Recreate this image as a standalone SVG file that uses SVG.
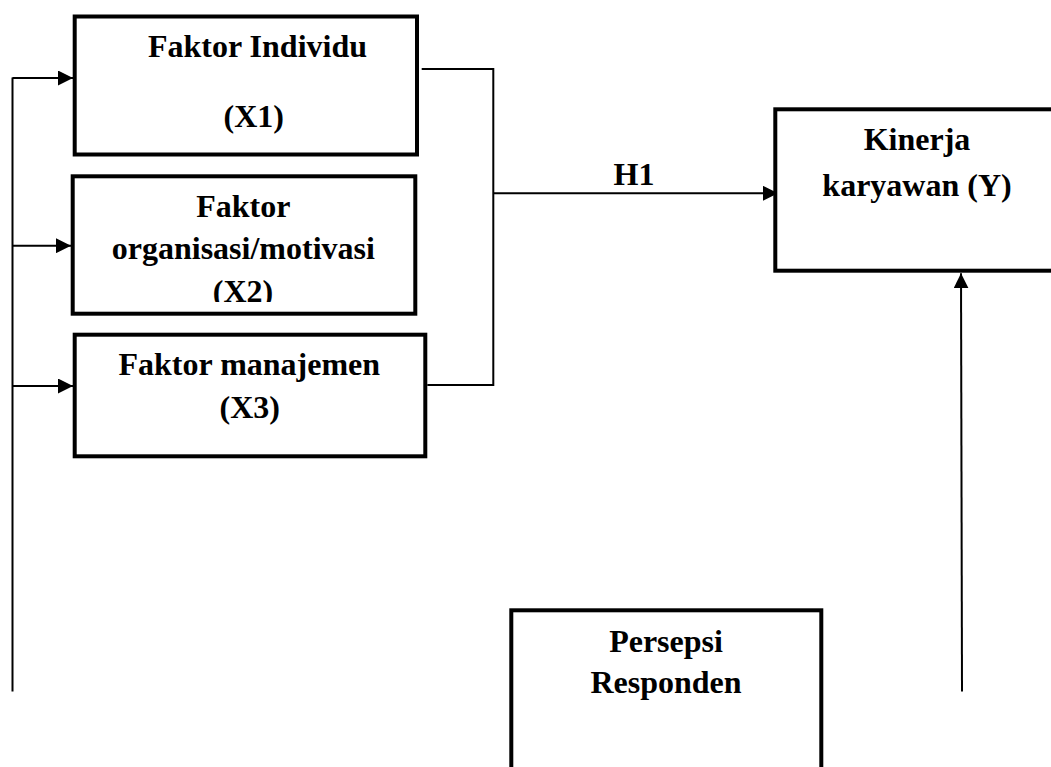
<svg xmlns="http://www.w3.org/2000/svg" width="1051" height="767" viewBox="0 0 1051 767">
<style>
.box{fill:#fff;stroke:#000;stroke-width:4}
.t{font-family:"Liberation Serif","Times New Roman",serif;font-weight:bold;font-size:32px;fill:#000;text-anchor:middle}
.c{fill:none;stroke:#000;stroke-width:2}
</style>
<defs>
<marker id="ah" markerUnits="userSpaceOnUse" markerWidth="15" markerHeight="15" refX="15" refY="7.5" orient="auto">
<path d="M0,0 L15,7.5 L0,15 z" fill="#000"/>
</marker>
<clipPath id="clip2"><rect x="0" y="0" width="1051" height="302"/></clipPath>
</defs>
<rect width="1051" height="767" fill="#fff"/>
<g id="connectors">
<path class="c" d="M12.5,691.5 V77.5"/>
<line class="c" x1="12.5" y1="78" x2="73" y2="78" marker-end="url(#ah)"/>
<line class="c" x1="12.5" y1="245.7" x2="71" y2="245.7" marker-end="url(#ah)"/>
<line class="c" x1="12.5" y1="386" x2="73" y2="386" marker-end="url(#ah)"/>
<path class="c" d="M421.7,69 H493.3 V385 H427.3"/>
<line class="c" x1="493.3" y1="193.3" x2="778" y2="193.3" marker-end="url(#ah)"/>
<line class="c" x1="962" y1="691.5" x2="961" y2="273.3" marker-end="url(#ah)"/>
<text class="t" x="634" y="185">H1</text>
</g>
<g id="x1">
<rect class="box" x="74.7" y="16.5" width="342.3" height="138"/>
<text class="t" x="257.5" y="57.3">Faktor Individu</text>
<text class="t" x="253.7" y="126.5">(X1)</text>
</g>
<g id="x2">
<rect class="box" x="72.7" y="176.3" width="342.6" height="137.4"/>
<text class="t" x="243.3" y="216.7">Faktor</text>
<text class="t" x="243.3" y="259.3">organisasi/motivasi</text>
<text class="t" x="243" y="302" clip-path="url(#clip2)">(X2)</text>
</g>
<g id="x3">
<rect class="box" x="74.7" y="334.7" width="350.6" height="121.6"/>
<text class="t" x="249.3" y="375">Faktor manajemen</text>
<text class="t" x="249.7" y="418">(X3)</text>
</g>
<g id="y">
<rect class="box" x="775.3" y="109.3" width="300" height="161.4"/>
<text class="t" x="917" y="150">Kinerja</text>
<text class="t" x="917" y="196">karyawan (Y)</text>
</g>
<g id="persepsi">
<rect class="box" x="511.3" y="610.3" width="310" height="200"/>
<text class="t" x="666" y="651.7">Persepsi</text>
<text class="t" x="666" y="693.3">Responden</text>
</g>
</svg>
